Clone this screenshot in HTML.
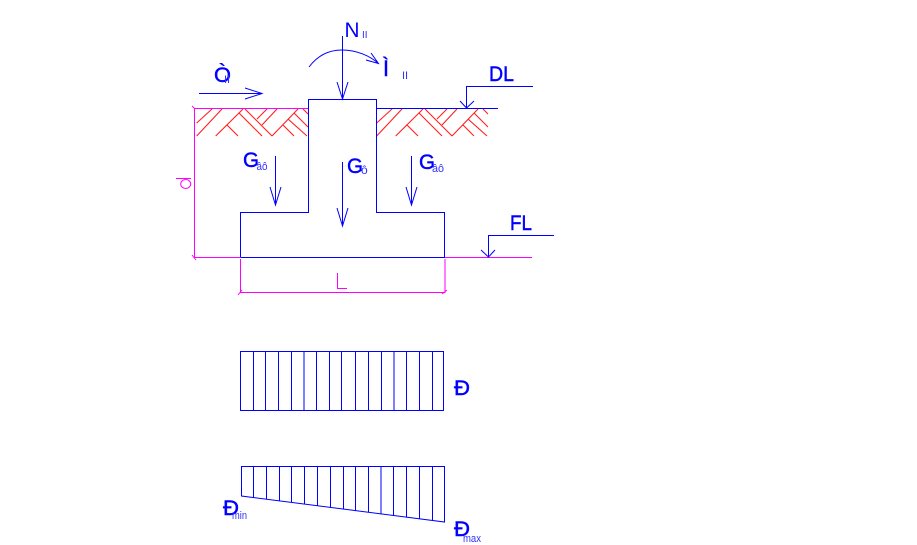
<!DOCTYPE html>
<html>
<head>
<meta charset="utf-8">
<style>
html,body{margin:0;padding:0;background:#fff;width:917px;height:545px;overflow:hidden}
svg{display:block}
text{font-family:"Liberation Sans",sans-serif;fill:#0000ff}
.b{stroke:#0000ff;stroke-width:.45}
.s{fill:#3030ff}
</style>
</head>
<body>
<svg width="917" height="545" viewBox="0 0 917 545" xmlns="http://www.w3.org/2000/svg">
<g stroke="#ff2020" stroke-width="1.100" fill="none">
<path d="M196.700 123L212 109M196.700 136L222 109M215.700 136L243 109M245 109L272 136M239 113L262 136M227 125L238 136M257 119L267 109M262 125L277 109M272 136L298 109M294 113L308 127M288 119L307 136M283 125L294 136M303 109L308 114"/>
<path d="M376.700 123L392 109M376.700 136L402 109M395.700 136L423 109M425 109L452 136M419 113L442 136M407 125L418 136M437 119L447 109M442 125L457 109M452 136L478 109M474 113L488 127M468 119L487 136M463 125L474 136M483 109L488 114"/>
</g>
<g stroke="#ff00ff" stroke-width="1" fill="none">
<path d="M194.500 108.500H308M194.500 108V257.500H240M192 106L195 109M192 255L196 260"/>
<path d="M240.500 259V292.500H445V259M238 295L242 290M442 294L447 290"/>
<path d="M445 257.500H532"/>
<path d="M337.500 273V288.500H347"/>
<path d="M176 178.500H191"/>
<ellipse cx="185.700" cy="184" rx="5" ry="4.500"/>
</g>
<g stroke="#0000ff" stroke-width="1" fill="none">
<path d="M240.500 257.500V212.500H308.500V99.500H376.500V212.500H444.500V257.500H240.500"/>
<path d="M376.500 108.500H498"/>
<path d="M342.500 36V99M337 82L342.500 99L348 82"/>
<path d="M309 67C318 55 330 50 342 50C357 50 370 56 378.500 63.500M371 53L378.500 63.500L366 60"/>
<path d="M199 93.500H262M245 88L262 93.500L245 99"/>
<path d="M466.500 108V86.500H533M460 101L466.500 108L474 101"/>
<path d="M488.500 257V235.500H554M481 250L488.500 257L495 250"/>
<path d="M275.500 156V205M270 187L275.500 205L281 187"/>
<path d="M342.500 162V226M337 208L342.500 226L348 208"/>
<path d="M411.500 156V205M406 187L411.500 205L417 187"/>
<rect x="240.500" y="351.500" width="203" height="59"/>
<path d="M253.500 351V410M265.500 351V410M278.500 351V410M291.500 351V410M316.500 351V410M329.500 351V410M341.500 351V410M355.500 351V410M368.500 351V410M381.500 351V410M406.500 351V410M419.500 351V410M432.500 351V410"/>
<path d="M304 351V410M394 351V410"/>
<path d="M241.500 466.500H444.500V522L241.500 496Z"/>
<path d="M253.500 466V497.500M266.500 466V499M279.500 466V501M291.500 466V502.500M304.500 466V504M317.500 466V506M330.500 466V507.500M343.500 466V509M355.500 466V511M368.500 466V512.500M393.500 466V515.500M406.500 466V517M419.500 466V519M432.500 466V520.500"/>
<path d="M381 466V514.500"/>
</g>
<text x="344.500" y="37" font-size="21" textLength="15" lengthAdjust="spacingAndGlyphs">N</text>
<text class="s" x="362" y="38" font-size="10">II</text>
<text class="b" x="383" y="76" font-size="22" textLength="6" lengthAdjust="spacingAndGlyphs">Ì</text>
<text class="s" x="402" y="79" font-size="11">II</text>
<text class="b" x="214" y="82" font-size="21" textLength="17" lengthAdjust="spacingAndGlyphs">Ò</text>
<text class="s" x="224" y="83" font-size="11">II</text>
<text class="b" x="489" y="81" font-size="21" textLength="25" lengthAdjust="spacingAndGlyphs">DL</text>
<text class="b" x="510" y="230" font-size="21" textLength="22" lengthAdjust="spacingAndGlyphs">FL</text>
<text class="b" x="243" y="167" font-size="21" textLength="16" lengthAdjust="spacingAndGlyphs">G</text>
<text class="s" x="256.500" y="170" font-size="11" textLength="11" lengthAdjust="spacingAndGlyphs">âô</text>
<text class="b" x="347" y="173" font-size="21" textLength="16" lengthAdjust="spacingAndGlyphs">G</text>
<text class="s" x="361" y="174" font-size="12">ô</text>
<text class="b" x="419" y="169" font-size="21" textLength="16" lengthAdjust="spacingAndGlyphs">G</text>
<text class="s" x="432" y="172" font-size="11" textLength="12" lengthAdjust="spacingAndGlyphs">âô</text>
<text class="b" x="454" y="395" font-size="21" textLength="16" lengthAdjust="spacingAndGlyphs">Đ</text>
<text class="b" x="223" y="515" font-size="21" textLength="16" lengthAdjust="spacingAndGlyphs">Đ</text>
<text class="s" x="232" y="519" font-size="11" textLength="15" lengthAdjust="spacingAndGlyphs">min</text>
<text class="b" x="454" y="536" font-size="21" textLength="16" lengthAdjust="spacingAndGlyphs">Đ</text>
<text class="s" x="463" y="542" font-size="11" textLength="18" lengthAdjust="spacingAndGlyphs">max</text>
</svg>
</body>
</html>
